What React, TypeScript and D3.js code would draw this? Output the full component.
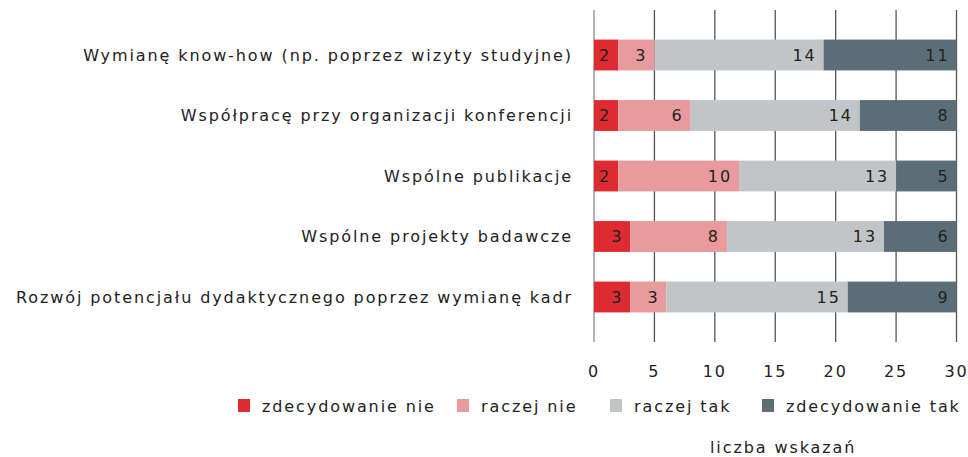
import React from "react";
import * as d3 from "d3";

const categories = [
  "Wymianę know-how (np. poprzez wizyty studyjne)",
  "Współpracę przy organizacji konferencji",
  "Wspólne publikacje",
  "Wspólne projekty badawcze",
  "Rozwój potencjału dydaktycznego poprzez wymianę kadr",
];
const seriesNames = ["zdecydowanie nie", "raczej nie", "raczej tak", "zdecydowanie tak"];
const zdecydowanieNie = [2, 2, 2, 3, 3];
const raczejNie = [3, 6, 10, 8, 3];
const raczejTak = [14, 14, 13, 13, 15];
const zdecydowanieTak = [11, 8, 5, 6, 9];
const xTicks = [0, 5, 10, 15, 20, 25, 30];
const axisTitle = "liczba wskazań";

const colors = ["#de2a31", "#e89a9c", "#c1c5c8", "#5b6e77"];
const FONT = "'DejaVu Sans', sans-serif";

export default function App() {
  const W = 968, H = 457;
  const x = d3.scaleLinear().domain([0, 30]).range([594, 956.5]);
  const y = d3.scaleBand<string>().domain(categories).range([10, 342]).paddingInner(0.49).paddingOuter(0.489);
  const rows = categories.map((c, i) => ({
    cat: c,
    v: [zdecydowanieNie[i], raczejNie[i], raczejTak[i], zdecydowanieTak[i]],
  }));
  const stack = d3.stack<any>().keys(["0", "1", "2", "3"]).value((d: any, k: string) => d.v[+k]);
  const series = stack(rows);
  const legendX = [238, 457, 610, 762];
  const ls = "1.9px";
  const fs = 16;
  return (
    <svg width={W} height={H} style={{ position: "absolute", left: 0, top: 0, background: "#fff" }}>
      {xTicks.map((t) => (
        <line key={t} x1={x(t)} x2={x(t)} y1={10} y2={342} stroke={t === 0 ? "#8a8a8a" : "#555"} strokeWidth={1.3} />
      ))}
      {series.map((s, si) =>
        s.map((d, i) => {
          const cat = categories[i];
          const x0 = x(d[0]), x1 = x(d[1]);
          const yy = y(cat)!;
          return (
            <g key={si + "-" + i}>
              <rect x={x0} y={yy} width={x1 - x0} height={y.bandwidth()} fill={colors[si]} />
              <text x={x1 - 7} y={yy + y.bandwidth() / 2} dy="0.36em" textAnchor="end" fontFamily={FONT} fontSize={fs} letterSpacing={ls} fill="#222">
                {rows[i].v[si]}
              </text>
            </g>
          );
        })
      )}
      {categories.map((c) => (
        <text key={c} x={573} y={y(c)! + y.bandwidth() / 2} dy="0.36em" textAnchor="end" fontFamily={FONT} fontSize={fs} letterSpacing={ls} fill="#222">
          {c}
        </text>
      ))}
      {xTicks.map((t) => (
        <text key={t} x={x(t)} y={371} dy="0.36em" textAnchor="middle" fontFamily={FONT} fontSize={fs} letterSpacing={ls} fill="#222">
          {t}
        </text>
      ))}
      {seriesNames.map((n, i) => (
        <g key={n}>
          <rect x={legendX[i]} y={399} width={12} height={13} fill={colors[i]} />
          <text x={legendX[i] + 24} y={406} dy="0.36em" fontFamily={FONT} fontSize={fs} letterSpacing={ls} fill="#222">
            {n}
          </text>
        </g>
      ))}
      <text x={710} y={447} dy="0.36em" fontFamily={FONT} fontSize={fs} letterSpacing={ls} fill="#222">
        {axisTitle}
      </text>
    </svg>
  );
}
